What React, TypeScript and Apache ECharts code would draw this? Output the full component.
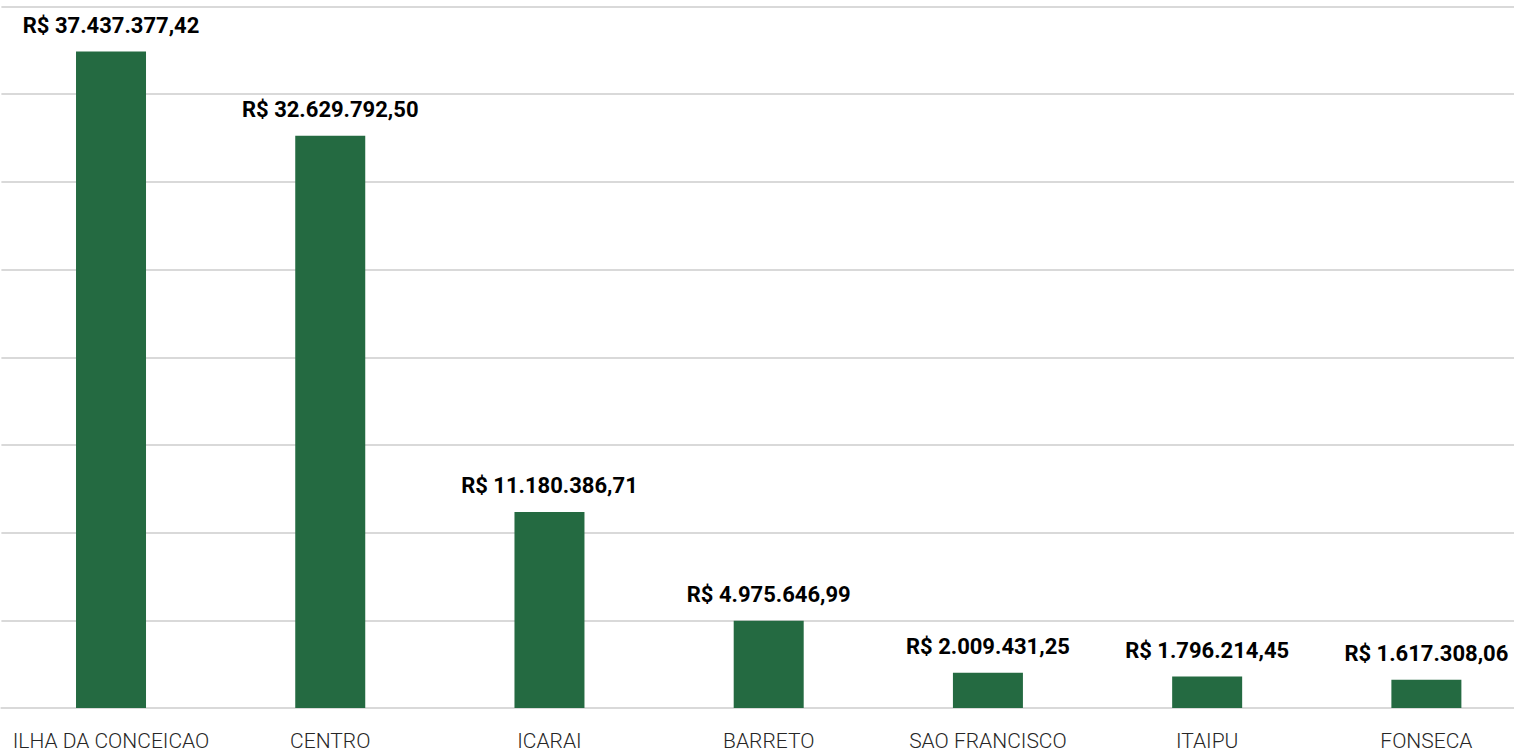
import React, { useEffect, useRef } from "react";
import * as echarts from "echarts";

const categories = [
  "ILHA DA CONCEICAO",
  "CENTRO",
  "ICARAI",
  "BARRETO",
  "SAO FRANCISCO",
  "ITAIPU",
  "FONSECA",
];
const values = [37437377.42, 32629792.5, 11180386.71, 4975646.99, 2009431.25, 1796214.45, 1617308.06];

const FONT = "Roboto, 'Noto Sans', sans-serif";

function brl(v: number): string {
  const fixed = v.toFixed(2);
  const [intPart, dec] = fixed.split(".");
  const withDots = intPart.replace(/\B(?=(\d{3})+(?!\d))/g, ".");
  return "R$ " + withDots + "," + dec;
}

export default function App() {
  const ref = useRef<HTMLDivElement>(null);
  useEffect(() => {
    if (!ref.current) return;
    const chart = echarts.init(ref.current, null, { renderer: "svg" });
    chart.setOption({
      animation: false,
      backgroundColor: "#ffffff",
      grid: { left: 1.4, right: 0, top: 6.5, bottom: 44, containLabel: false },
      xAxis: {
        type: "category",
        data: categories,
        axisLine: { show: true, lineStyle: { color: "#d9d9d9", width: 2 } },
        axisTick: { show: false },
        axisLabel: {
          color: "#262626",
          fontFamily: FONT,
          fontWeight: 300,
          fontSize: 21,
          margin: 22,
          interval: 0,
        },
      },
      yAxis: {
        type: "value",
        min: 0,
        max: 40000000,
        interval: 5000000,
        axisLabel: { show: false },
        axisLine: { show: false },
        axisTick: { show: false },
        splitLine: { lineStyle: { color: "#d9d9d9", width: 2 } },
      },
      series: [
        {
          type: "bar",
          data: values,
          barWidth: 70,
          itemStyle: { color: "#246a41" },
          label: {
            show: true,
            position: "top",
            distance: 15,
            color: "#000000",
            fontFamily: FONT,
            fontWeight: "bold",
            fontSize: 22,
            formatter: (p: any) => brl(p.value),
          },
        },
      ],
    });
    return () => chart.dispose();
  }, []);
  return (
    <div style={{ position: "absolute", left: 0, top: 0, width: 1514, height: 752, overflow: "hidden", background: "#fff" }}>
      <div ref={ref} style={{ width: 1536, height: 752 }} />
    </div>
  );
}
